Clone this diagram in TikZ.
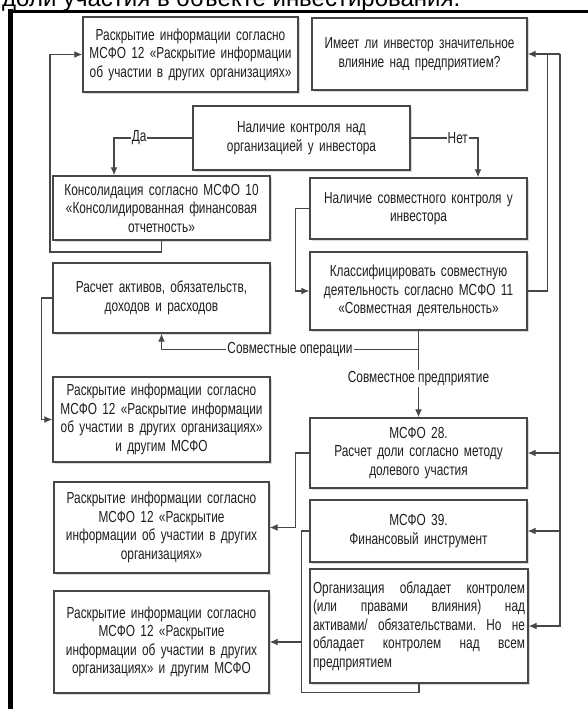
\documentclass[tikz,border=0pt]{standalone}
\usepackage{fontspec}
\setmainfont{Liberation Sans}[FakeStretch=0.74]
\newfontfamily\titlefont{Liberation Sans}
\usetikzlibrary{arrows.meta,shadows}
\definecolor{rama}{HTML}{474747}
\def\stroka#1{\leavevmode\hbox to 212pt{\spaceskip=3.5pt plus 1fil\xspaceskip=3.5pt plus 1fil\relax #1}}
\tikzset{
	blok/.style={draw=rama, line width=1.4pt, fill=white, align=center, inner xsep=3pt, inner ysep=2pt,
		font=\fontsize{16}{18.5}\selectfont, text=black!88,
		drop shadow={shadow xshift=1.5pt, shadow yshift=-1.5pt, fill=black!15, opacity=1}},
	svyaz/.style={draw=rama, line width=1.3pt},
	strel/.style={svyaz, -{Latex[length=8pt,width=7pt]}},
	metka/.style={fill=white, inner sep=1pt, font=\fontsize{16}{18}\selectfont, text=black!88}
}

\begin{document}
\begin{tikzpicture}[x=1pt, y=-1pt]
		%%%%% START %%%%%
		\useasboundingbox (0,0) rectangle (588,709);
		
		\node[anchor=base west, inner sep=0, font=\titlefont\fontsize{24}{24}\selectfont] (zagolovok) at (2,7) {доли участия в объекте инвестирования.};
		\draw[line width=3.5pt] (8,11.5) -- (600,11.5);
		\draw[line width=5pt] (10.5,9.5) -- (10.5,720);
		
		\node[blok, minimum width=215pt, minimum height=75pt, text width=209pt] (raskr1) at (190.5,54.5) {Раскрытие информации согласно\\МСФО 12 «Раскрытие информации\\об участии в других организациях»};
		\node[blok, minimum width=215pt, minimum height=72pt, text width=209pt] (vliyanie) at (419.5,54) {Имеет ли инвестор значительное\\влияние над предприятием?};
		
		\node[blok, minimum width=217pt, minimum height=64pt, text width=211pt] (kontrol) at (301.5,138) {Наличие контроля над\\организацией у инвестора};
		
		\node[blok, minimum width=217pt, minimum height=64pt, text width=211pt] (konsol) at (161.5,208) {Консолидация согласно МСФО 10\\«Консолидированная финансовая\\отчетность»};
		\node[blok, minimum width=217pt, minimum height=61pt, text width=211pt] (sovm) at (418.5,208.5) {Наличие совместного контроля у\\инвестора};
		
		\node[blok, minimum width=217pt, minimum height=78pt, text width=211pt] (klass) at (418.5,291) {Классифицировать совместную\\деятельность согласно МСФО 11\\«Совместная деятельность»};
		\node[blok, minimum width=217pt, minimum height=70pt, text width=211pt] (raschet) at (161.5,298) {Расчет активов, обязательств,\\доходов и расходов};
		
		\node[blok, minimum width=217pt, minimum height=85pt, text width=211pt] (raskr2) at (161.5,419.5) {Раскрытие информации согласно\\МСФО 12 «Раскрытие информации\\об участии в других организациях»\\и другим МСФО};
		\node[blok, minimum width=217pt, minimum height=70pt, text width=211pt] (dolya) at (418.5,453) {МСФО 28.\\Расчет доли согласно методу\\долевого участия};
		
		\node[blok, minimum width=215pt, minimum height=91pt, text width=209pt] (raskr3) at (161.5,527.5) {Раскрытие информации согласно\\МСФО 12 «Раскрытие\\информации об участии в других\\организациях»};
		\node[blok, minimum width=217pt, minimum height=62pt, text width=211pt] (fin) at (418.5,531) {МСФО 39.\\Финансовый инструмент};
		
		\node[blok, minimum width=218pt, minimum height=114pt, text width=212pt, inner xsep=3pt, align=left] (org) at (419,626) {\stroka{Организация обладает контролем}\\\stroka{(или правами влияния) над}\\\stroka{активами/ обязательствами. Но не}\\\stroka{обладает контролем над всем}\\предприятием};
		\node[blok, minimum width=215pt, minimum height=102pt, text width=209pt] (raskr4) at (161.5,642) {Раскрытие информации согласно\\МСФО 12 «Раскрытие\\информации об участии в других\\организациях» и другим МСФО};
		
		% svyazi
		\coordinate (levo) at (50,252);
		\draw[strel] (konsol.south) |- (levo) |- (raskr1.west);
		
		\draw[strel] (kontrol.west) -| node[metka, pos=0.34] {Да} ([xshift=-47.5pt]konsol.north);
		\draw[strel] (kontrol.east) -| node[metka, pos=0.35] {Нет} ([xshift=59.5pt]sovm.north);
		
		\draw[strel] (sovm.west) -- ++(-14,0) |- (klass.west);
		
		\draw[strel] (klass.south) -- ++(0,19) -| node[metka, pos=0.25] {Совместные операции} (raschet.south);
		\draw[strel] (klass.south) -- node[metka, pos=0.55] {Совместное предприятие} (dolya.north);
		
		\draw[strel] (raschet.west) -- ++(-11,0) |- (raskr2.west);
		
		\coordinate (shina) at (560,54);
		\draw[strel] (shina) -- (vliyanie.east);
		\draw[strel] (shina) |- (dolya.east);
		\draw[strel] (shina) |- (fin.east);
		\draw[strel] (shina) |- (org.east);
		\draw[svyaz] (klass.east) -| ([xshift=20pt]vliyanie.east);
		
		\draw[strel] (dolya.west) -- ++(-14,0) |- (raskr3.east);
		\draw[svyaz] (fin.west) -- ++(-8,0) |- ([yshift=-9pt]org.south) -- (org.south);
		\draw[strel] (fin.west) ++(-8,0) |- (raskr4.east);
		
		%%%%% END %%%%%
\end{tikzpicture}
\end{document}
